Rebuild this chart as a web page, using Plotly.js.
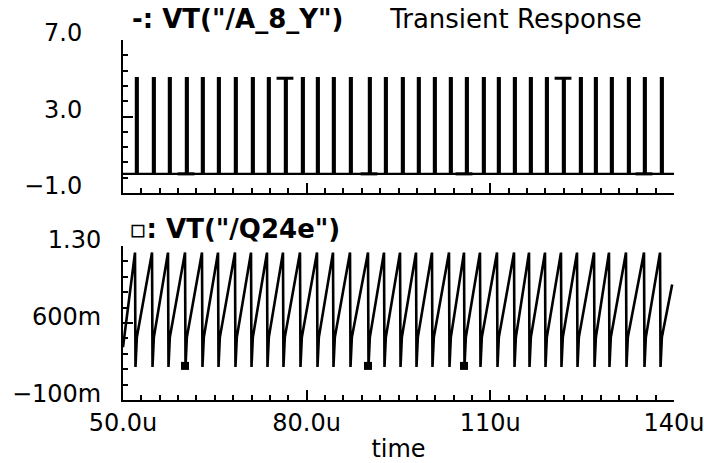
<!DOCTYPE html>
<html><head><meta charset="utf-8">
<script src="https://cdn.plot.ly/plotly-3.0.1.min.js"></script>
<style>html,body{margin:0;padding:0;background:#fff}#chart{width:704px;height:463px}</style>
</head><body><div id="chart"></div>
<script>
// ---- axis ticks ----
const timeTickVals = [50, 80, 110, 140];
const timeTickText = ['50.0u', '80.0u', '110u', '140u'];
const topTickVals = [-1, 3, 7];
const topTickText = ['\u22121.0', '3.0', '7.0'];
const botTickVals = [-0.1, 0.6, 1.3];
const botTickText = ['\u2212100m', '600m', '1.30'];

// ---- VT("/A_8_Y"): narrow pulses, start times in u, levels in V ----
const pulseTimes = [52.12, 54.90, 57.51, 60.29, 62.90, 65.52, 68.29, 71.07, 73.68, 76.46,
  79.24, 81.69, 84.30, 87.08, 90.18, 92.80, 95.57, 98.18, 100.80, 103.41,
  106.03, 108.80, 111.25, 113.87, 116.48, 119.10, 121.87, 124.65, 127.10, 129.71,
  132.49, 135.10, 137.88];
const pulseLevels = [0.0, 5.0];          // low, high
const pulseWidth = [0.28];               // u
const topMarkerTimes = [60.29, 76.46, 90.18, 105.70, 121.87, 135.10];
const topMarkerValues = [0, 5, 0, 0, 5, 0];

// ---- VT("/Q24e"): sawtooth, reset times in u ----
const sawResetTimes = [51.96, 54.74, 57.35, 60.13, 62.90, 65.52, 68.29, 70.91, 73.52, 76.13,
  78.91, 81.69, 84.30, 87.08, 90.02, 92.63, 95.25, 97.86, 100.47, 103.25,
  105.70, 108.31, 111.09, 113.87, 116.32, 118.93, 121.54, 124.16, 126.94, 129.38,
  132.16, 135.10, 137.72];
const sawLevels = [1.24, 0.20, 0.47];    // peak, trough, ramp restart
const sawStartPoint = [50, 0.38];
const sawEndPoint = [139.7, 0.95];
const botMarkerTimes = [60.13, 90.02, 105.70];
const botMarkerValues = [0.21, 0.21, 0.21];

// ---- build traces ----
const px = [50], py = [pulseLevels[0]];
pulseTimes.forEach(t => {
  px.push(t, t, t + pulseWidth[0], t + pulseWidth[0]);
  py.push(pulseLevels[0], pulseLevels[1], pulseLevels[1], pulseLevels[0]);
});
px.push(140); py.push(pulseLevels[0]);

const sx = [sawStartPoint[0]], sy = [sawStartPoint[1]];
sawResetTimes.forEach(t => {
  sx.push(t, t + 0.08, t + 0.3);
  sy.push(sawLevels[0], sawLevels[1], sawLevels[2]);
});
sx.push(sawEndPoint[0]); sy.push(sawEndPoint[1]);

const data = [
  {x: px, y: py, xaxis: 'x2', yaxis: 'y2', mode: 'lines', line: {color: '#000', width: 2.4}, hoverinfo: 'skip'},
  {x: topMarkerTimes, y: topMarkerValues, xaxis: 'x2', yaxis: 'y2', mode: 'markers',
   marker: {symbol: 'line-ew-open', size: 12, color: '#000', line: {color: '#000', width: 3}}, hoverinfo: 'skip'},
  {x: sx, y: sy, xaxis: 'x', yaxis: 'y', mode: 'lines', line: {color: '#000', width: 2.6}, hoverinfo: 'skip'},
  {x: botMarkerTimes, y: botMarkerValues, xaxis: 'x', yaxis: 'y', mode: 'markers',
   marker: {symbol: 'square', size: 8, color: '#000'}, hoverinfo: 'skip'}
];

const F = 'DejaVu Sans';
const commonX = {
  range: [50, 140.001], tickmode: 'array', tickvals: timeTickVals, ticktext: timeTickText,
  ticks: 'inside', ticklen: 10, tickwidth: 2, tickcolor: '#000',
  showline: true, linewidth: 2, linecolor: '#000', showgrid: false, zeroline: false,
  ticklabeloverflow: 'allow',
  minor: {tick0: 50, dtick: 3, ticks: 'inside', ticklen: 5, tickwidth: 2, tickcolor: '#000', showgrid: false},
  tickfont: {family: F, size: 24, color: '#000'}
};
const layout = {
  width: 704, height: 463,
  margin: {l: 123, r: 30, t: 40, b: 63},
  paper_bgcolor: '#fff', plot_bgcolor: '#fff',
  showlegend: false,
  font: {family: F, size: 24, color: '#000'},
  title: {text: 'Transient Response', x: 516 / 704, xanchor: 'center', y: 1 - 19 / 463, yanchor: 'middle',
          font: {family: F, size: 26, color: '#000'}},
  xaxis: Object.assign({}, commonX, {domain: [0, 1], anchor: 'y',
          title: {text: 'time', standoff: 4, font: {family: F, size: 24, color: '#000'}}}),
  xaxis2: Object.assign({}, commonX, {domain: [0, 1], anchor: 'y2', matches: 'x', showticklabels: false}),
  yaxis: {domain: [0, 154 / 360], anchor: 'x', range: [-0.1, 1.3],
          tickmode: 'array', tickvals: botTickVals, ticktext: botTickText,
          ticks: 'inside', ticklen: 10, tickwidth: 2, tickcolor: '#000',
          showline: true, linewidth: 2, linecolor: '#000', showgrid: false, zeroline: false,
          minor: {tick0: -0.1, dtick: 0.14, ticks: 'inside', ticklen: 5, tickwidth: 2, tickcolor: '#000', showgrid: false},
          ticklabelshift: -6, ticklabelstandoff: 15,
          tickfont: {family: F, size: 24, color: '#000'}},
  yaxis2: {domain: [207 / 360, 1], anchor: 'x2', range: [-1, 7],
          tickmode: 'array', tickvals: topTickVals, ticktext: topTickText,
          ticks: 'inside', ticklen: 10, tickwidth: 2, tickcolor: '#000',
          showline: true, linewidth: 2, linecolor: '#000', showgrid: false, zeroline: false,
          minor: {tick0: -1, dtick: 0.8, ticks: 'inside', ticklen: 5, tickwidth: 2, tickcolor: '#000', showgrid: false},
          ticklabelshift: -7, ticklabelstandoff: 34,
          tickfont: {family: F, size: 24, color: '#000'}},
  annotations: [
    {text: '<b>-: VT("/A_8_Y")</b>', xref: 'paper', yref: 'paper', x: 7 / 551, y: (400 - 19) / 360,
     xanchor: 'left', yanchor: 'middle', showarrow: false, font: {family: F, size: 26, color: '#000'}},
    {text: '<b>\u25AB: VT("/Q24e")</b>', xref: 'paper', yref: 'paper', x: 4 / 551, y: (400 - 229) / 360,
     xanchor: 'left', yanchor: 'middle', showarrow: false, font: {family: F, size: 26, color: '#000'}}
  ]
};
Plotly.newPlot('chart', data, layout, {staticPlot: true, displayModeBar: false});
</script>
</body></html>
